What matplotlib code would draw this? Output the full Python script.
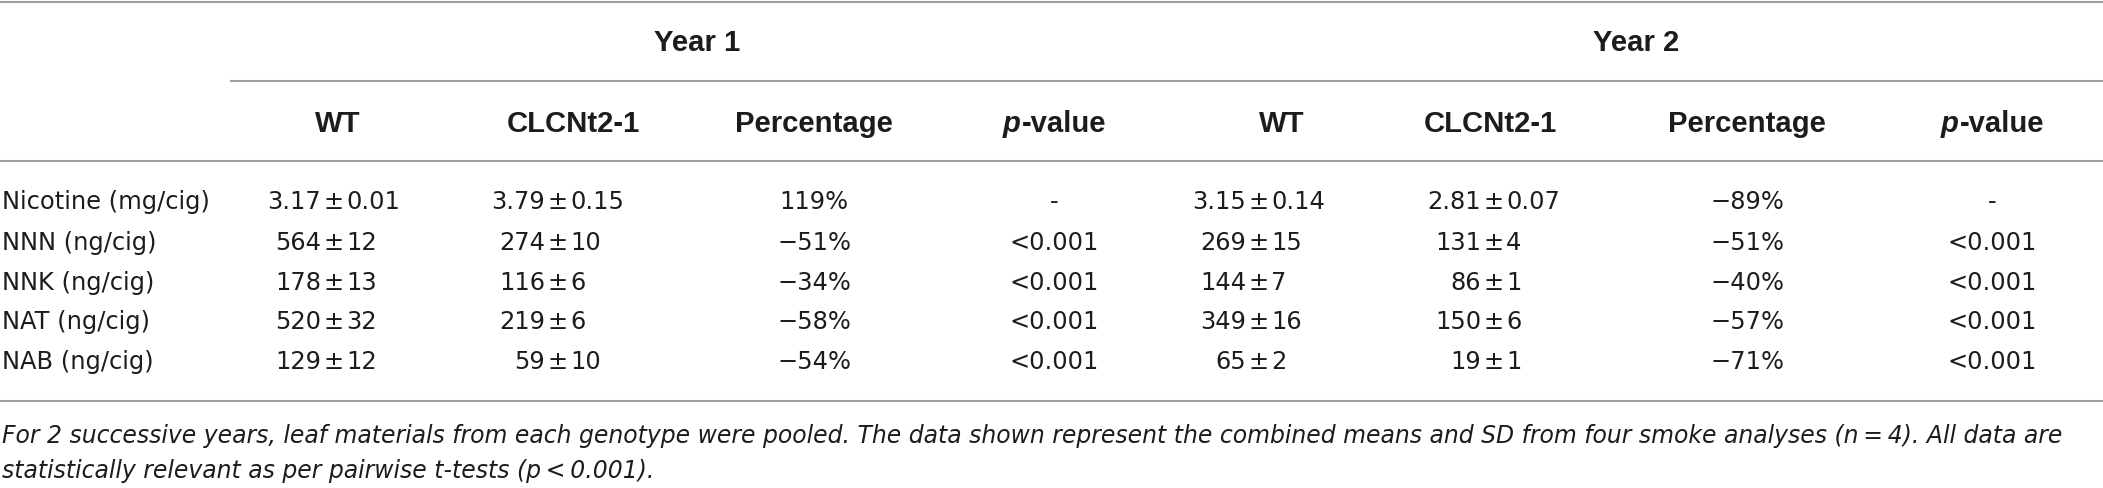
import matplotlib
matplotlib.use("Agg")
import matplotlib.pyplot as plt

# ---------------- data ----------------
compounds = ["Nicotine (mg/cig)", "NNN (ng/cig)", "NNK (ng/cig)", "NAT (ng/cig)", "NAB (ng/cig)"]
years = ["Year 1", "Year 2"]
col_headers = ["WT", "CLCNt2-1", "Percentage", "p-value"]

y1_wt_mean = ["3.17", "564", "178", "520", "129"]
y1_wt_sd = ["0.01", "12", "13", "32", "12"]
y1_cl_mean = ["3.79", "274", "116", "219", "59"]
y1_cl_sd = ["0.15", "10", "6", "6", "10"]
y1_pct = ["119%", "\u221251%", "\u221234%", "\u221258%", "\u221254%"]
y1_p = ["-", "<0.001", "<0.001", "<0.001", "<0.001"]

y2_wt_mean = ["3.15", "269", "144", "349", "65"]
y2_wt_sd = ["0.14", "15", "7", "16", "2"]
y2_cl_mean = ["2.81", "131", "86", "150", "19"]
y2_cl_sd = ["0.07", "4", "1", "6", "1"]
y2_pct = ["\u221289%", "\u221251%", "\u221240%", "\u221257%", "\u221271%"]
y2_p = ["-", "<0.001", "<0.001", "<0.001", "<0.001"]

footnote = [
    "For 2 successive years, leaf materials from each genotype were pooled. The data shown represent the combined means and SD from four smoke analyses (n\u2009=\u20094). All data are",
    "statistically relevant as per pairwise t-tests (p\u2009<\u20090.001).",
]

# ---------------- layout ----------------
W, H = 2103, 488
fig = plt.figure(figsize=(W / 100, H / 100), dpi=100)
ax = fig.add_axes([0, 0, 1, 1])
ax.set_xlim(0, W)
ax.set_ylim(H, 0)
ax.axis("off")
fig.canvas.draw()
renderer = fig.canvas.get_renderer()

BODY = ["DejaVu Sans"]
HEAD = ["Liberation Sans", "DejaVu Sans"]
txt_col = "#1c1c1c"
line_col = "#a0a0a0"


def fit_size(s, target, **kw):
    t = ax.text(0, 0, s, fontsize=10, **kw)
    w = t.get_window_extent(renderer).width
    t.remove()
    return 10 * target / w


body_fs = fit_size(compounds[0], 208, family=BODY)
foot_fs = fit_size(footnote[0], 2060, family=BODY, style="italic")
head_fs = fit_size("Percentage", 158, family=HEAD, fontweight="bold")

# rules
for y, x0 in [(1.5, 0), (81, 230), (161, 0), (401, 0)]:
    ax.plot([x0, W], [y, y], color=line_col, lw=1.5, solid_capstyle="butt")

# year headers
year_x = [697, 1636]
for yr, x in zip(years, year_x):
    ax.text(x, 43, yr, ha="center", va="center", fontsize=head_fs,
            fontweight="bold", family=HEAD, color=txt_col)

# column headers
hdr_y = 124
hdr_x = [[338, 573, 814, 1054], [1282, 1490, 1747, 1992]]
for xs in hdr_x:
    for h, x in zip(col_headers, xs):
        if h == "p-value":
            t1 = ax.text(0, hdr_y, "p", ha="left", va="center", fontsize=head_fs,
                         fontweight="bold", style="italic", family=HEAD, color=txt_col)
            t2 = ax.text(0, hdr_y, "-value", ha="left", va="center", fontsize=head_fs,
                         fontweight="bold", family=HEAD, color=txt_col)
            w1 = t1.get_window_extent(renderer).width
            w2 = t2.get_window_extent(renderer).width
            start = x - (w1 + w2) / 2
            t1.set_x(start)
            t2.set_x(start + w1 + 1)
        else:
            ax.text(x, hdr_y, h, ha="center", va="center", fontsize=head_fs,
                    fontweight="bold", family=HEAD, color=txt_col)

row_y = [202, 243, 283, 322, 362]
bkw = dict(va="center", fontsize=body_fs, family=BODY, color=txt_col)


def pm_cell(x_anchor, mean, sd, y):
    ax.text(x_anchor - 13, y, mean, ha="right", **bkw)
    ax.text(x_anchor, y, "\u00b1", ha="center", **bkw)
    ax.text(x_anchor + 12, y, sd, ha="left", **bkw)


for i, y in enumerate(row_y):
    ax.text(2, y, compounds[i], ha="left", **bkw)
    pm_cell(334, y1_wt_mean[i], y1_wt_sd[i], y)
    pm_cell(558, y1_cl_mean[i], y1_cl_sd[i], y)
    ax.text(814, y, y1_pct[i], ha="center", **bkw)
    ax.text(1054, y, y1_p[i], ha="center", **bkw)
    pm_cell(1259, y2_wt_mean[i], y2_wt_sd[i], y)
    pm_cell(1494, y2_cl_mean[i], y2_cl_sd[i], y)
    ax.text(1747, y, y2_pct[i], ha="center", **bkw)
    ax.text(1992, y, y2_p[i], ha="center", **bkw)

for line, y in zip(footnote, [443, 478]):
    ax.text(2, y, line, ha="left", va="baseline", fontsize=foot_fs,
            style="italic", family=BODY, color=txt_col)

fig.savefig("out.png", dpi=100, facecolor="white")
